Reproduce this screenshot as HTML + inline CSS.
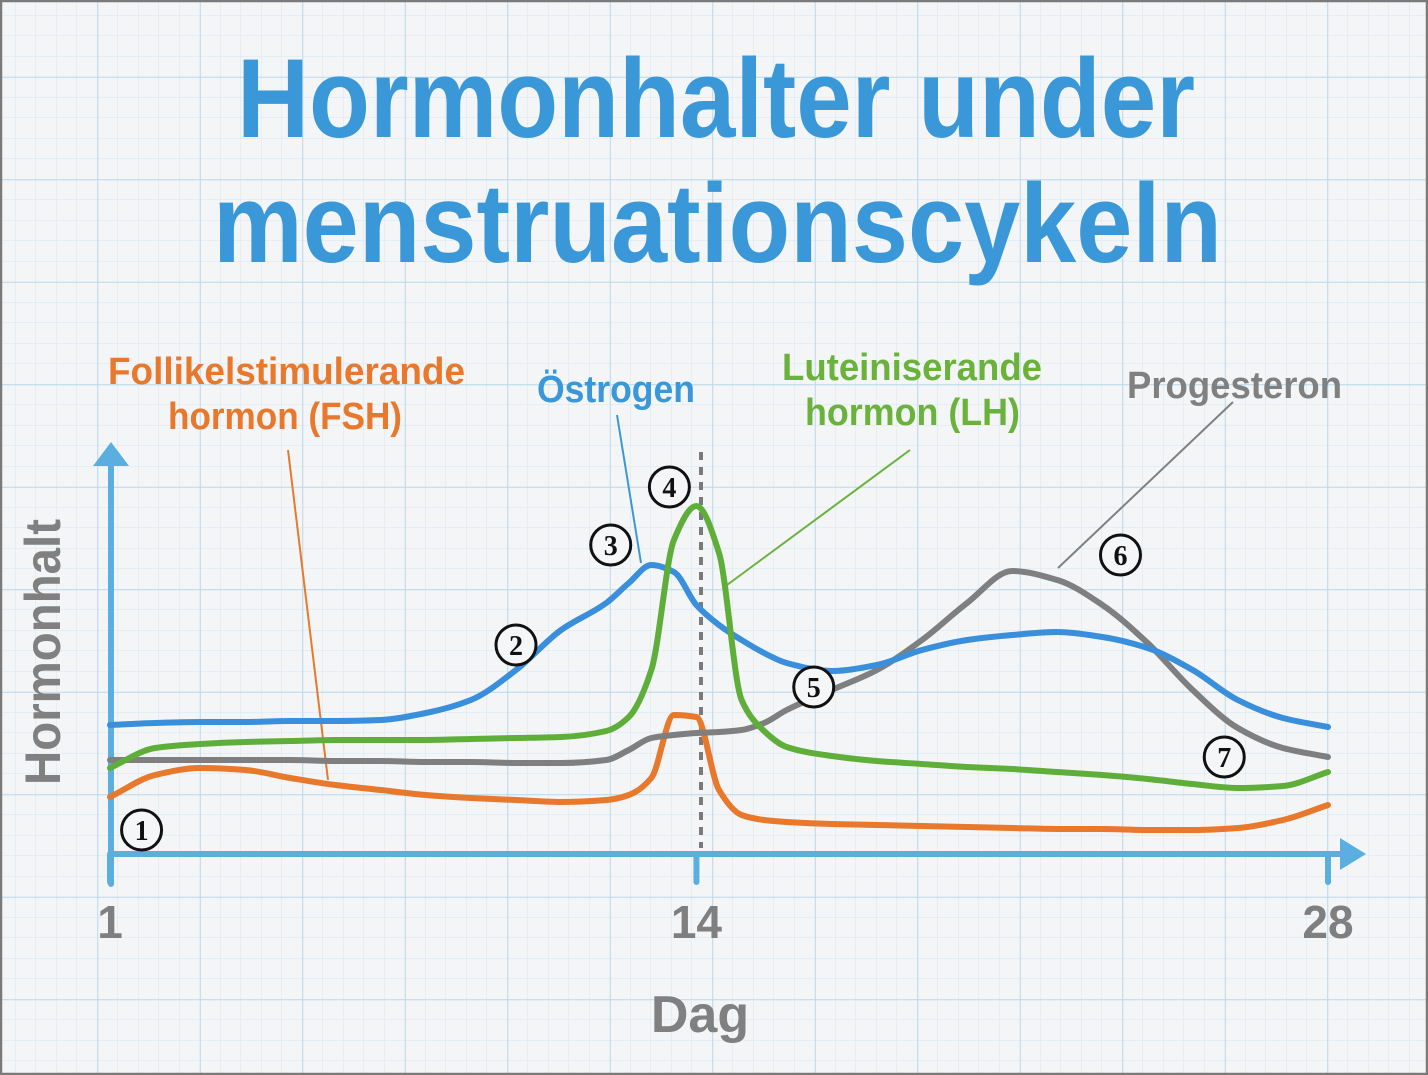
<!DOCTYPE html>
<html><head><meta charset="utf-8">
<style>
html,body{margin:0;padding:0;background:#f4f6f8;}
svg{display:block;}
.hand{font-family:"Liberation Sans Narrow","Liberation Sans",sans-serif;font-weight:bold;}
</style></head>
<body>
<svg id="chart" width="1428" height="1075" viewBox="0 0 1428 1075" xmlns="http://www.w3.org/2000/svg">
<defs>
<pattern id="minor" x="15.5" y="15.5" width="20.5" height="20.5" patternUnits="userSpaceOnUse">
<path d="M20.5 0V20.5M0 20.5H20.5" stroke="#d5e6f0" stroke-width="1" fill="none"/>
</pattern>
<pattern id="major" x="97.5" y="77" width="102.5" height="102.5" patternUnits="userSpaceOnUse">
<path d="M0 0V102.5M0 0H102.5" stroke="#b9d8ea" stroke-width="1.5" fill="none"/>
</pattern>
</defs>
<rect x="0" y="0" width="1428" height="1075" fill="#f3f5f7"/>
<rect x="0" y="0" width="1428" height="1075" fill="url(#minor)"/>
<rect x="0" y="0" width="1428" height="1075" fill="url(#major)"/>
<rect x="1" y="1" width="1426" height="1073" fill="none" stroke="#7a7a7a" stroke-width="2.5"/>

<text class="hand" x="237" y="137" font-size="112" fill="#3a98d8" textLength="958" lengthAdjust="spacingAndGlyphs">Hormonhalter under</text>
<text class="hand" x="213" y="262" font-size="112" fill="#3a98d8" textLength="1009" lengthAdjust="spacingAndGlyphs">menstruationscykeln</text>

<g id="labels">
<text class="hand" x="108" y="384" font-size="38" fill="#e8782c" textLength="357" lengthAdjust="spacingAndGlyphs">Follikelstimulerande</text>
<text class="hand" x="168" y="429" font-size="38" fill="#e8782c" textLength="234" lengthAdjust="spacingAndGlyphs">hormon (FSH)</text>
<text class="hand" x="537" y="402" font-size="38" fill="#3a98d8" textLength="158" lengthAdjust="spacingAndGlyphs">Östrogen</text>
<text class="hand" x="782" y="380" font-size="38" fill="#6bb23c" textLength="260" lengthAdjust="spacingAndGlyphs">Luteiniserande</text>
<text class="hand" x="805" y="425" font-size="38" fill="#6bb23c" textLength="215" lengthAdjust="spacingAndGlyphs">hormon (LH)</text>
<text class="hand" x="1127" y="398" font-size="38" fill="#808080" textLength="215" lengthAdjust="spacingAndGlyphs">Progesteron</text>
<line x1="288" y1="450" x2="328" y2="780" stroke="#e8782c" stroke-width="2"/>
<line x1="617" y1="415" x2="641" y2="563" stroke="#3a98d8" stroke-width="2"/>
<line x1="910" y1="450" x2="727" y2="585" stroke="#6bb23c" stroke-width="2"/>
<line x1="1233" y1="402" x2="1058" y2="568" stroke="#808080" stroke-width="2"/>
</g>

<line x1="701" y1="452" x2="701" y2="848" stroke="#7a7a7a" stroke-width="4" stroke-dasharray="8,7"/>

<g id="axes">
<line x1="111" y1="462" x2="111" y2="884" stroke="#5aaee0" stroke-width="6" stroke-linecap="round"/>
<polygon points="93,466 111,442 129,466" fill="#5aaee0"/>
<line x1="108" y1="854" x2="1345" y2="854" stroke="#5aaee0" stroke-width="6"/>
<polygon points="1340,838 1366,854 1340,870" fill="#5aaee0"/>
</g>
<g id="ticks"></g>
<text class="hand" transform="translate(60,785) rotate(-90)" font-size="50" fill="#808080" textLength="266" lengthAdjust="spacingAndGlyphs">Hormonhalt</text>
<text class="hand" x="700" y="1032" text-anchor="middle" font-size="52" fill="#808080">Dag</text>
<g id="series"></g>
<g id="markers"></g>
</svg>
<script>
const days = [1,2,3,4,5,6,7,8,9,10,11,12,12.5,13,13.5,14,14.5,15,15.5,16,17,18,19,20,21,22,23,24,25,26,27,28];
// hormone levels (arbitrary units, 0 = axis baseline)
const estrogen =     [12.8,13.0,13.1,13.1,13.2,13.2,13.3,14.0,15.3,18.3,22.3,25.0,27.0,28.8,28.1,24.8,22.8,21.3,20.0,19.0,18.2,18.8,20.3,21.3,21.8,22.1,21.6,20.5,18.3,15.3,13.5,12.6];
const lh =           [8.5,10.5,10.9,11.1,11.2,11.3,11.3,11.3,11.4,11.5,11.6,12.2,13.6,18.3,31.3,34.7,30.0,15.3,12.2,10.6,9.7,9.2,8.9,8.6,8.4,8.1,7.8,7.4,6.9,6.5,6.7,8.1];
const progesterone = [9.3,9.3,9.3,9.3,9.3,9.2,9.2,9.1,9.1,9.0,9.0,9.3,10.3,11.5,11.8,12.0,12.1,12.3,13.0,14.3,16.3,18.3,21.3,25.0,28.2,27.3,24.8,21.0,16.3,12.5,10.5,9.6];
const fsh =          [5.6,7.8,8.5,8.3,7.5,6.8,6.3,5.8,5.5,5.3,5.1,5.3,5.8,7.5,13.8,13.6,6.3,3.8,3.3,3.1,2.9,2.8,2.7,2.6,2.5,2.4,2.4,2.3,2.3,2.5,3.3,4.8];
const tickDays = [1,14,28];
const tickLabels = ["1","14","28"];
const markerDays = [1.7,10,12.1,13.4,16.6,23.4,25.7];
const markerLevels = [2.3,20.8,30.8,36.6,16.6,29.8,9.6];
const markerLabels = ["1","2","3","4","5","6","7"];

const NS = "http://www.w3.org/2000/svg";
const x = d => 110 + (d - 1) * (1218 / 27);
const y = v => 853 - v * 10;

// monotone cubic (Fritsch–Carlson) path
function smoothPath(xs, ys){
  const n = xs.length, h = [], s = [], m = new Array(n);
  for (let i = 0; i < n-1; i++){ h.push(xs[i+1]-xs[i]); s.push((ys[i+1]-ys[i])/h[i]); }
  m[0] = s[0]; m[n-1] = s[n-2];
  for (let i = 1; i < n-1; i++){
    if (s[i-1]*s[i] <= 0) m[i] = 0;
    else { const w1 = 2*h[i]+h[i-1], w2 = h[i]+2*h[i-1]; m[i] = (w1+w2)/(w1/s[i-1]+w2/s[i]); }
  }
  let d = "M" + xs[0].toFixed(1) + " " + ys[0].toFixed(1);
  for (let i = 0; i < n-1; i++){
    const dx = h[i]/3;
    d += " C" + (xs[i]+dx).toFixed(1)+" "+(ys[i]+m[i]*dx).toFixed(1)+" "+(xs[i+1]-dx).toFixed(1)+" "+(ys[i+1]-m[i+1]*dx).toFixed(1)+" "+xs[i+1].toFixed(1)+" "+ys[i+1].toFixed(1);
  }
  return d;
}

const seriesG = document.getElementById("series");
function drawSeries(vals, color, name){
  const p = document.createElementNS(NS, "path");
  p.setAttribute("d", smoothPath(days.map(x), vals.map(y)));
  p.setAttribute("fill", "none");
  p.setAttribute("stroke", color);
  p.setAttribute("stroke-width", "6");
  p.setAttribute("stroke-linecap", "round");
  p.setAttribute("stroke-linejoin", "round");
  
  
  seriesG.appendChild(p);
}
drawSeries(fsh, "#e8782c", "fsh-line");
drawSeries(progesterone, "#7f7f7f", "progesterone-line");
drawSeries(estrogen, "#3a8fdc", "estrogen-line");
drawSeries(lh, "#5fae3a", "lh-line");

const ticksG = document.getElementById("ticks");
tickDays.forEach((d, i) => {
  const t = document.createElementNS(NS, "line");
  t.setAttribute("x1", x(d)); t.setAttribute("x2", x(d));
  t.setAttribute("y1", 854); t.setAttribute("y2", 882);
  t.setAttribute("stroke", "#5aaee0"); t.setAttribute("stroke-width", "6");
  t.setAttribute("stroke-linecap", "round");
  
  
  ticksG.appendChild(t);
  const l = document.createElementNS(NS, "text");
  l.setAttribute("x", x(d)); l.setAttribute("y", 938);
  l.setAttribute("text-anchor", "middle");
  l.setAttribute("class", "hand");
  l.setAttribute("font-size", "46");
  l.setAttribute("fill", "#7f7f7f");
  l.textContent = tickLabels[i];
  
  
  ticksG.appendChild(l);
});

const markersG = document.getElementById("markers");
markerDays.forEach((d, i) => {
  const g = document.createElementNS(NS, "g");
  
  
  const c = document.createElementNS(NS, "circle");
  c.setAttribute("cx", x(d)); c.setAttribute("cy", y(markerLevels[i]));
  c.setAttribute("r", 20);
  c.setAttribute("fill", "#f4f6f8"); c.setAttribute("stroke", "#111"); c.setAttribute("stroke-width", "3");
  g.appendChild(c);
  const t = document.createElementNS(NS, "text");
  t.setAttribute("x", x(d)); t.setAttribute("y", y(markerLevels[i]) + 10);
  t.setAttribute("text-anchor", "middle");
  t.setAttribute("font-family", "Liberation Serif, serif");
  t.setAttribute("font-weight", "bold");
  t.setAttribute("font-size", "28");
  t.setAttribute("fill", "#111");
  t.textContent = markerLabels[i];
  g.appendChild(t);
  markersG.appendChild(g);
});
</script>
</body></html>
